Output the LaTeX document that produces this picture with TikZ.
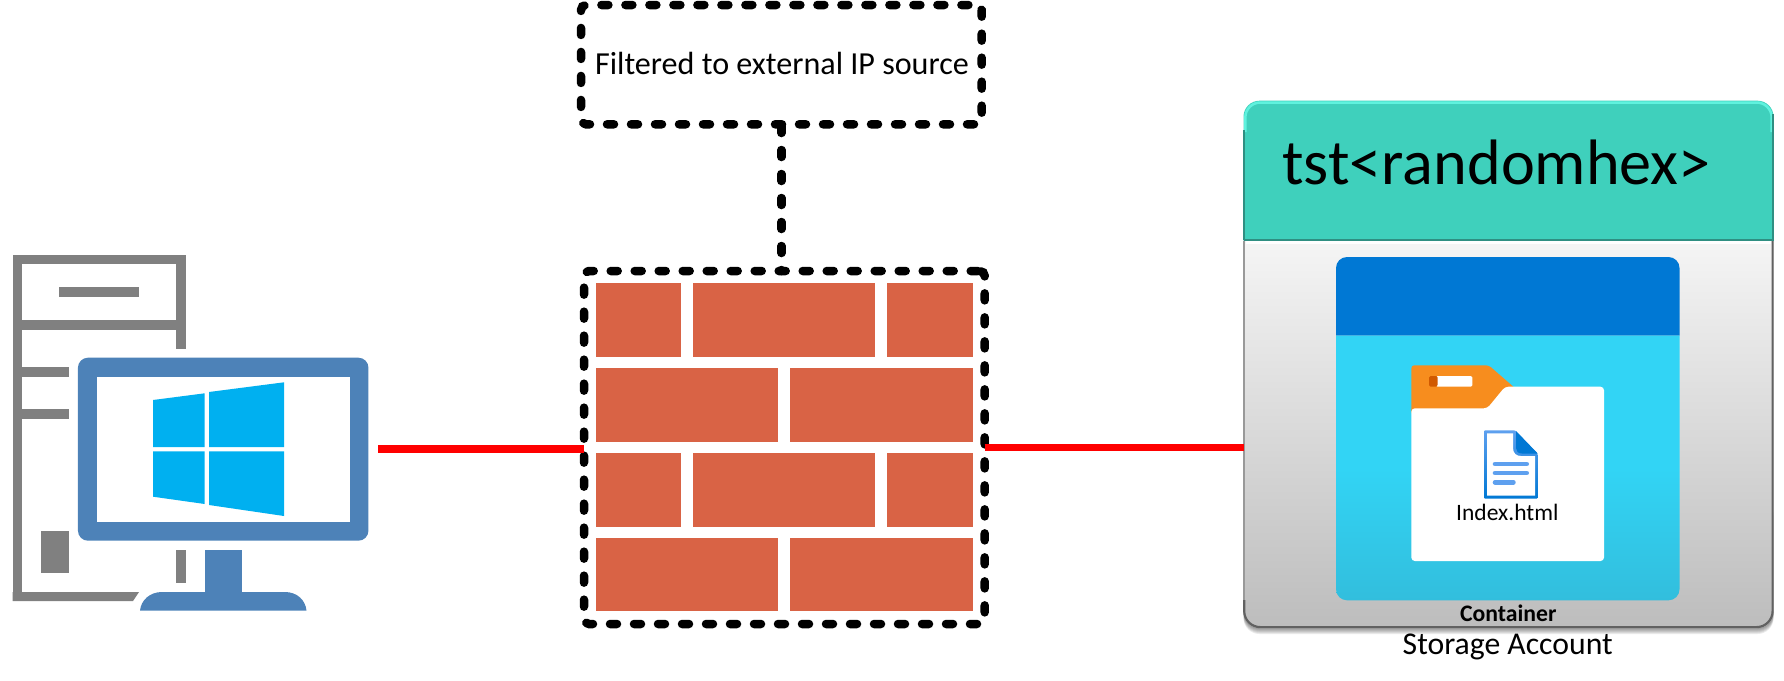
\documentclass[tikz,border=0pt]{standalone}
\usepackage{fontspec}
\setmainfont{Carlito}
\definecolor{towergray}{HTML}{808080}
\definecolor{screenblue}{HTML}{4D82B8}
\definecolor{winblue}{HTML}{00B0F0}
\definecolor{brick}{HTML}{D96345}
\definecolor{wirered}{HTML}{FF0000}
\definecolor{teal}{HTML}{3FD0BC}
\definecolor{tealhi}{HTML}{5FF2DE}
\definecolor{tealdk}{HTML}{2F8F82}
\definecolor{azdark}{HTML}{0078D4}
\definecolor{aztop}{HTML}{32D4F5}
\definecolor{azbot}{HTML}{32BEDD}
\definecolor{folderor}{HTML}{F78D1E}
\definecolor{folderdk}{HTML}{D15900}
\definecolor{doclight}{HTML}{5EA0EF}
\tikzset{
  dashbox/.style={draw=black,line width=8.5pt,line cap=round,dash pattern=on 7pt off 17pt,rounded corners=5pt,inner sep=0pt,outer sep=0pt},
  dashwire/.style={draw=black,line width=8.5pt,line cap=round,dash pattern=on 7pt off 17pt},
  redwire/.style={draw=wirered,line width=7.5pt},
  towerpart/.style={fill=towergray},
  brickpart/.style={fill=brick},
  winpane/.style={fill=winblue},
  label/.style={inner sep=0pt,outer sep=0pt,anchor=base,text=black},
}
\begin{document}
\begin{tikzpicture}[x=1pt,y=-1pt]
\useasboundingbox (0,0) rectangle (1784,680);
% tower
\fill[towerpart] (12.5,254.5) rectangle (22,601);
\fill[towerpart] (12.5,254.5) rectangle (185.7,264);
\fill[towerpart] (176,254.5) rectangle (185.7,348.5);
\fill[towerpart] (12.5,320.3) rectangle (185.7,329.7);
\fill[towerpart] (59.3,287.3) rectangle (139,297);
\fill[towerpart] (22,367) rectangle (69,376.7);
\fill[towerpart] (22,409.3) rectangle (69,419);
\fill[towerpart] (40.7,531) rectangle (69,573.3);
\fill[towerpart] (176,550) rectangle (185.7,582.7);
\fill[towerpart] (12.5,592) -- (139,592) -- (133,601) -- (12.5,601) -- cycle;
% monitor
\node[fill=screenblue,rounded corners=10pt,minimum width=290.5pt,minimum height=183pt,inner sep=0pt,outer sep=0pt] (monitor) at (223.2,449.2) {};
\fill[white] (96.7,376.7) rectangle (349.7,521.7);
\fill[screenblue] (204.7,550) rectangle (242,595);
\fill[screenblue] (140,610.7) .. controls (141,600) and (150,592) .. (162,592) -- (285,592) .. controls (297,592) and (305.5,600) .. (306.5,610.7) -- cycle;
\fill[winpane] (153,400) -- (204.7,393.3) -- (204.7,447) -- (153,447) -- cycle;
\fill[winpane] (209,392) -- (284,382.3) -- (284,447) -- (209,447) -- cycle;
\fill[winpane] (153,451.3) -- (204.7,451.3) -- (204.7,504) -- (153,496.7) -- cycle;
\fill[winpane] (209,451.3) -- (284,451.3) -- (284,516) -- (209,505) -- cycle;
% filter box
\node[dashbox,dash phase=15.7pt,minimum width=400.7pt,minimum height=119.3pt] (filter) at (781.35,64.65) {};
\node[label,font=\fontsize{32.1pt}{36pt}\selectfont] (filtertext) at (782,74) {Filtered to external IP source};
% bricks
\foreach \ya/\yb in {283.3/356.7,453.3/526.7}{
  \fill[brickpart] (596,\ya) rectangle (681.3,\yb);
  \fill[brickpart] (693.3,\ya) rectangle (875.3,\yb);
  \fill[brickpart] (887.3,\ya) rectangle (972.7,\yb);
}
\foreach \ya/\yb in {368.3/441.7,538.3/611.3}{
  \fill[brickpart] (596,\ya) rectangle (778.3,\yb);
  \fill[brickpart] (790.3,\ya) rectangle (972.7,\yb);
}
% firewall outline
\node[dashbox,dash phase=22pt,minimum width=400.7pt,minimum height=353pt] (fw) at (784.35,447.5) {};
% storage shadow
\foreach \d in {1,2,3,4,5,6}{
  \fill[black,opacity=.08,rounded corners=16pt] (1243.5,120+\d) rectangle (1773.5,628+\d);
}
% storage account
\node[fill=white,rounded corners=16pt,minimum width=530pt,minimum height=327.3pt,inner sep=0pt,outer sep=0pt] (storage) at (1508.5,364.35) {};
\shade[top color=white!96!black,bottom color=white!74!black]
  (1243.5,241) [rounded corners=16pt] -- (1243.5,628) -- (1773.5,628) -- (1773.5,400) [sharp corners] -- (1773.5,241) -- cycle;
\fill[teal] (1243.5,240.7) [rounded corners=16pt] -- (1243.5,100.7) -- (1773.5,100.7) -- (1773.5,200) [sharp corners] -- (1773.5,240.7) -- cycle;
% bevels
\draw[tealhi,line width=2.5pt,rounded corners=15pt] (1245.3,132) -- (1245.3,102.5) -- (1771.7,102.5) -- (1771.7,132);
\draw[tealdk,line width=1.2pt] (1243.9,130) -- (1243.9,239.5);
\draw[tealdk,line width=2.2pt] (1772.6,114) -- (1772.6,239.5);
\draw[tealdk,line width=2.2pt] (1243.5,239.6) -- (1773.5,239.6);
\draw[white,line width=2.6pt] (1246,242.2) -- (1771,242.2);
\draw[white!60!black,line width=1.6pt] (1244.2,241) -- (1244.2,606);
\draw[white!38!black,line width=2.2pt] (1244.2,600) [rounded corners=16pt] -- (1244.2,627.1) -- (1772.6,627.1) -- (1772.6,500) [sharp corners] -- (1772.6,241);
% container
\fill[azdark] (1336,335.7) [rounded corners=11pt] -- (1336,257) -- (1679.5,257) -- (1679.5,300) [sharp corners] -- (1679.5,335.7) -- cycle;
\shade[top color=aztop,bottom color=azbot,middle color=aztop] (1336,335.7) [rounded corners=11pt] -- (1336,600.3) -- (1679.5,600.3) -- (1679.5,500) [sharp corners] -- (1679.5,335.7) -- cycle;
% folder
\fill[folderor,rounded corners=3pt] (1411.3,415) -- (1411.3,365.3) -- (1488.7,365.3) -- (1516,389) -- (1490,412) -- cycle;
\fill[white,rounded corners=3.5pt] (1411.3,561) -- (1411.3,408.3) -- (1487.3,408.3) -- (1505,386.7) -- (1604,386.7) -- (1604,561) -- cycle;
\fill[white,rounded corners=1.5pt] (1436,376) rectangle (1472.3,386.7);
\fill[folderdk,rounded corners=1.5pt] (1429,376) rectangle (1437.5,386.7);
% document
\shade[top color=doclight,bottom color=azdark,rounded corners=1pt] (1484,498.7) -- (1484,430.3) -- (1515,430.3) -- (1537.7,454) -- (1537.7,498.7) -- cycle;
\fill[white] (1487,495.5) -- (1487,433.3) -- (1513,433.3) -- (1513,448) .. controls (1513,453) and (1516,456) .. (1521,456) -- (1535,456) -- (1535,495.5) -- cycle;
\fill[azdark] (1516,431) -- (1537.7,453.5) -- (1522,453.5) .. controls (1518,453.5) and (1516,451) .. (1516,448) -- cycle;
\draw[doclight,line width=4.6pt,line cap=round] (1495,464) -- (1526.7,464);
\draw[doclight,line width=4.6pt,line cap=round] (1495,473) -- (1526.7,473);
\draw[doclight,line width=4.6pt,line cap=round] (1495,482.3) -- (1513.4,482.3);
% texts
\node[label,font=\fontsize{64.2pt}{70pt}\selectfont] (acct) at (1496.5,184.3) {tst<randomhex>};
\node[label,font=\fontsize{23.5pt}{27pt}\selectfont] (index) at (1507.3,520) {Index.html};
\node[label,font=\bfseries\fontsize{23.7pt}{27pt}\selectfont] (cont) at (1508.3,621.7) {Container};
\node[label,font=\fontsize{31.7pt}{36pt}\selectfont] (sa) at (1507.7,654) {Storage Account};
% connectors
\draw[dashwire,dash phase=22.3pt] (filter.south) -- (filter.south |- fw.north);
\draw[redwire] ([xshift=10pt]monitor.east) -- (monitor.east -| fw.west);
\draw[redwire] (fw.east) -- (fw.east -| storage.west);
\end{tikzpicture}
\end{document}
